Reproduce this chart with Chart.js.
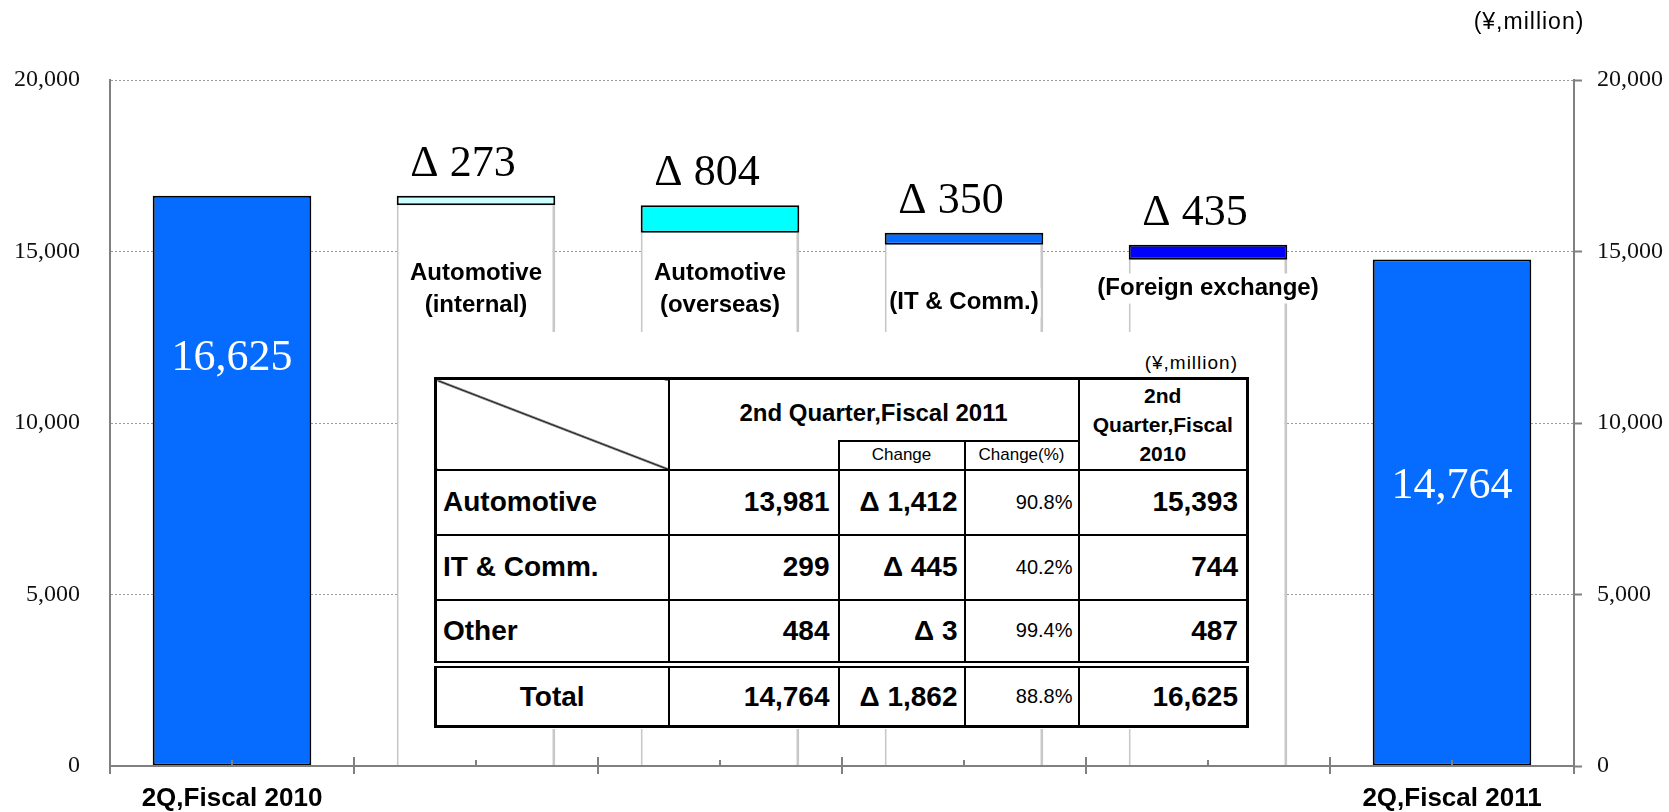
<!DOCTYPE html>
<html>
<head>
<meta charset="utf-8">
<script src="https://cdn.jsdelivr.net/npm/chart.js@4.4.0/dist/chart.umd.min.js"></script>
<style>
    body { margin: 0; background: #fff; }
    #wrap { position: relative; width: 1669px; height: 812px; font-family: "Liberation Sans", Arial, sans-serif; color: #000; }
    #cwrap { position: absolute; left: 0; top: 0; width: 1669px; height: 812px; }
    #unit { position: absolute; left: 1459px; top: 8px; width: 140px; text-align: center; font-size: 23px; letter-spacing: 1px; }
    #tbox { position: absolute; left: 432px; top: 332px; width: 818px; height: 397px; background: #fff; }
    #tcap { position: absolute; right: 12px; top: 20px; font-size: 19px; letter-spacing: 1px; }
    #tbl { position: absolute; left: 2px; top: 45px; width: 812px; border-collapse: collapse; table-layout: fixed; border: 3px solid #000; }
    #tbl td { border: 2px solid #000; padding: 0 8px 0 0; font-weight: bold; font-size: 28px; text-align: right; white-space: nowrap; overflow: hidden; }
    #tbl td.lbl { text-align: left; padding: 0 0 0 6px; }
    #tbl td.tot { text-align: center; padding: 0; }
    #tbl td.pct { font-weight: normal; font-size: 20px; padding-right: 5px; }
    #tbl td.chg { padding-right: 6px; }
    #tbl td.diag { background: linear-gradient(to top right, transparent calc(50% - 1.2px), #000 calc(50% - 0.4px), #000 calc(50% + 0.4px), transparent calc(50% + 1.2px)); }
    #tbl td.h11 { text-align: center; font-size: 24px; padding: 6px 0 0 0; border-bottom: none; }
    #tbl td.h10 { text-align: center; font-size: 21px; line-height: 29px; padding: 0; }
    #tbl td.sub { text-align: center; font-weight: normal; font-size: 17px; padding: 0; }
    #tbl td.blank { border-top: none; }
    #tbl tr.total td { border-top: 7px double #000; }
</style>
</head>
<body>
<div id="wrap">
    <div id="cwrap"><canvas id="waterfall"></canvas></div>
    <div id="unit">(¥,million)</div>
    <div id="tbox">
        <div id="tcap">(¥,million)</div>
        <table id="tbl"></table>
    </div>
</div>
<script>
    //================================================================ Data ================
    var categories = ['2Q,Fiscal 2010', '', '', '', '', '2Q,Fiscal 2011'];
    var totals = [16625, 14764];
    var deltas = [273, 804, 350, 435];
    var deltaNames = [['Automotive', '(internal)'], ['Automotive', '(overseas)'], ['(IT & Comm.)'], ['(Foreign exchange)']];
    var yTicks = [0, 5000, 10000, 15000, 20000];

    // table
    var rowNames = ['Automotive', 'IT & Comm.', 'Other', 'Total'];
    var fiscal2011 = [13981, 299, 484, 14764];
    var change = [-1412, -445, -3, -1862];
    var changePct = [90.8, 40.2, 99.4, 88.8];
    var fiscal2010 = [15393, 744, 487, 16625];

    var fmt = function(v) { return v.toLocaleString('en-US'); };

    //================================================================ Table ===============
    var html = '<colgroup><col style="width:233px"><col style="width:170px"><col style="width:126px"><col style="width:114px"><col style="width:169px"></colgroup>';
    html += '<tr style="height:62px"><td class="diag" rowspan="2"></td><td class="h11" colspan="3">2nd Quarter,Fiscal 2011</td>' +
        '<td class="h10" rowspan="2">2nd<br>Quarter,Fiscal<br>2010</td></tr>';
    html += '<tr style="height:29px"><td class="blank"></td><td class="sub">Change</td><td class="sub">Change(%)</td></tr>';
    for (var i in rowNames) {
        var last = i == rowNames.length - 1;
        html += '<tr' + (last ? ' class="total"' : '') + ' style="height:' + (last ? 62 : 65) + 'px">' +
            '<td class="' + (last ? 'tot' : 'lbl') + '">' + rowNames[i] + '</td>' +
            '<td>' + fmt(fiscal2011[i]) + '</td>' +
            '<td class="chg">' + (change[i] < 0 ? 'Δ ' : '') + fmt(Math.abs(change[i])) + '</td>' +
            '<td class="pct">' + changePct[i].toFixed(1) + '%</td>' +
            '<td>' + fmt(fiscal2010[i]) + '</td></tr>';
    }
    document.getElementById('tbl').innerHTML = html;

    //================================================================ Waterfall ranges ====
    var ranges = [[0, totals[0]]];
    var bases = [null];
    var level = totals[0];
    deltas.forEach(function(d) {
        ranges.push([level - d, level]);
        bases.push(level - d);
        level -= d;
    });
    ranges.push([0, totals[1]]);
    bases.push(null);

    //================================================================ Plugins =============
    var barLabels = {
        id: 'barLabels',
        afterDatasetsDraw: function(chart) {
            var ctx = chart.ctx;
            var meta = chart.getDatasetMeta(1);
            var y15 = chart.scales.y.getPixelForValue(15000);
            // label rows (offsets from the 15,000 grid line)
            var nameOffsets = [[22, 54], [22, 54], [51], [37]];
            ctx.save();
            meta.data.forEach(function(bar, i) {
                var top = Math.min(bar.y, bar.base);
                if (i === 0 || i === categories.length - 1) {
                    ctx.fillStyle = '#fff';
                    ctx.font = '44px "Liberation Serif"';
                    ctx.textAlign = 'center';
                    ctx.textBaseline = 'middle';
                    ctx.fillText(fmt(totals[i === 0 ? 0 : 1]), bar.x, top + (i === 0 ? 163 : 227));
                } else {
                    var k = i - 1;
                    ctx.fillStyle = '#000';
                    ctx.font = '44px "Liberation Serif"';
                    ctx.textAlign = 'center';
                    ctx.textBaseline = 'alphabetic';
                    ctx.fillText('Δ ' + deltas[k], bar.x - 13, top - 20);

                    ctx.font = 'bold 24px "Liberation Sans"';
                    ctx.textBaseline = 'middle';
                    deltaNames[k].forEach(function(t, j) {
                        var w = ctx.measureText(t).width;
                        var ly = y15 + nameOffsets[k][j];
                        ctx.fillStyle = '#fff';
                        ctx.fillRect(bar.x - w / 2 - 2, ly - 15, w + 4, 30);
                        ctx.fillStyle = '#000';
                        ctx.fillText(t, bar.x, ly);
                    });
                }
            });
            ctx.restore();
        }
    };

    var axisTicks = {
        id: 'axisTicks',
        afterDraw: function(chart) {
            var ctx = chart.ctx;
            var xs = chart.scales.x;
            var bottom = chart.chartArea.bottom;
            var n = categories.length;
            ctx.save();
            ctx.strokeStyle = '#808080';
            ctx.lineWidth = 2;
            ctx.beginPath();
            for (var i = 0; i <= n; i++) {
                var px = xs.getPixelForValue(i - 0.5);
                var up = (i > 0 && i < n) ? 9 : 0;
                ctx.moveTo(px, bottom - up);
                ctx.lineTo(px, bottom + 8);
            }
            for (var j = 0; j < n; j++) {
                var cx = xs.getPixelForValue(j);
                ctx.moveTo(cx, bottom - 6);
                ctx.lineTo(cx, bottom);
            }
            ctx.stroke();
            ctx.restore();
        }
    };

    //================================================================ Chart ===============
    var chrt = document.getElementById('waterfall').getContext('2d');
    var config = {
        type: 'bar',
        data: {
            labels: categories,
            datasets: [{
                label: 'base',
                data: bases,
                backgroundColor: '#fff',
                borderColor: '#c8c8c8',
                borderWidth: { left: 2, right: 3, top: 0, bottom: 0 },
                grouped: false,
                order: 2
            }, {
                label: 'sales',
                data: ranges,
                backgroundColor: ['#066cff', '#ccffff', '#00ffff', '#066cff', '#0000ff', '#066cff'],
                borderColor: '#000',
                borderWidth: 2,
                borderSkipped: false,
                grouped: false,
                order: 1
            }]
        },
        options: {
            responsive: true,
            maintainAspectRatio: false,
            animation: false,
            barPercentage: 0.65,
            categoryPercentage: 1,
            layout: { padding: { top: 80, left: 0, right: 0, bottom: 0 } },
            plugins: {
                legend: { display: false },
                tooltip: { enabled: false }
            },
            scales: {
                x: {
                    grid: { display: false, drawTicks: false },
                    border: { color: '#808080', width: 2, z: 1 },
                    ticks: {
                        autoSkip: false,
                        maxRotation: 0,
                        padding: 17,
                        color: '#000',
                        font: { family: 'Liberation Sans', size: 26, weight: 'bold' }
                    },
                    afterFit: function(s) { s.height = 46; }
                },
                y: {
                    min: 0,
                    max: 20000,
                    afterBuildTicks: function(s) { s.ticks = yTicks.map(function(v) { return { value: v }; }); },
                    grid: { color: '#9a9a9a', lineWidth: 1, drawTicks: false },
                    border: { color: '#808080', width: 2, dash: [2, 2], z: 1 },
                    ticks: {
                        padding: 30,
                        color: '#111',
                        font: { family: 'Liberation Serif', size: 24 },
                        callback: function(v) { return fmt(v); }
                    },
                    afterFit: function(s) { s.width = 110; }
                },
                y2: {
                    position: 'right',
                    min: 0,
                    max: 20000,
                    afterBuildTicks: function(s) { s.ticks = yTicks.map(function(v) { return { value: v }; }); },
                    grid: { drawOnChartArea: false, tickLength: 8, tickColor: '#808080', tickWidth: 2 },
                    border: { color: '#808080', width: 2, z: 1 },
                    ticks: {
                        padding: 15,
                        color: '#111',
                        font: { family: 'Liberation Serif', size: 24 },
                        callback: function(v) { return fmt(v); }
                    },
                    afterFit: function(s) { s.width = 95; }
                }
            }
        },
        plugins: [barLabels, axisTicks]
    };

    var waterfallChart = new Chart(chrt, config);
</script>
</body>
</html>
